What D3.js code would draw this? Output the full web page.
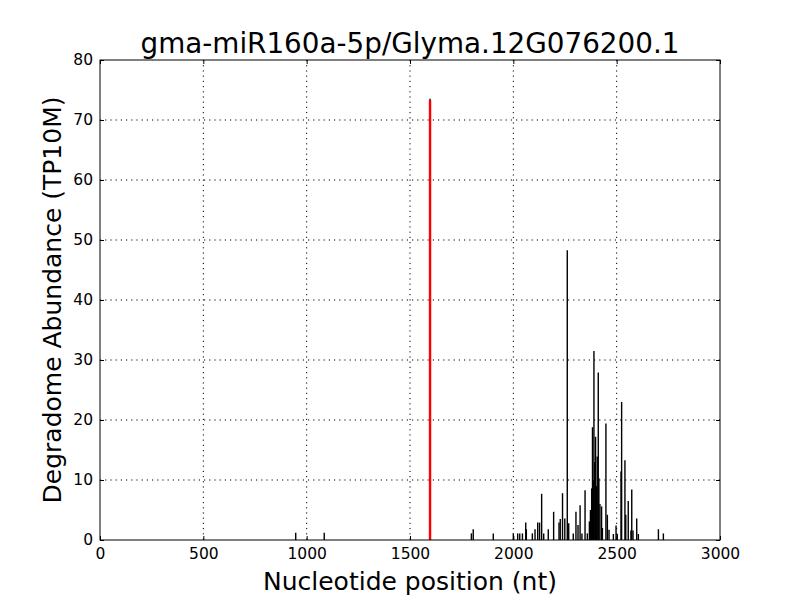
<!DOCTYPE html>
<meta charset="utf-8">
<style>
body { margin: 0; background: #fff; }
svg { font-family: "DejaVu Sans", sans-serif; }
.grid line { stroke: #000; stroke-dasharray: 1.2,4; stroke-width: 1; }
</style>
<script src="https://d3js.org/d3.v7.min.js"></script>
<body>
<svg width="800" height="600"></svg>
<script>

// degradome tags: positions (nt) and abundance (TP10M)
var positions = [947, 1085, 1797, 1806, 1903, 2000, 2021, 2031, 2044, 2060, 2063, 2092, 2105, 2118, 2127,
  2137, 2147, 2169, 2195, 2221, 2227, 2238, 2249, 2261, 2268, 2290, 2303, 2313, 2323, 2332, 2347, 2358,
  2368, 2373, 2379, 2383, 2387, 2390, 2394, 2398, 2402, 2406, 2411, 2414, 2419, 2427, 2431, 2448, 2455,
  2463, 2484, 2497, 2503, 2521, 2524, 2540, 2544, 2556, 2569, 2573, 2579, 2597, 2605, 2702, 2726];
var abundance = [1.2, 1.2, 1.1, 1.8, 1.1, 1.1, 1.1, 1.1, 1.1, 2.9, 1.8, 1.1, 1.8, 2.9, 2.9,
  7.7, 1.1, 1.8, 4.7, 2.9, 3.5, 7.8, 3.6, 48.3, 2.8, 1.1, 4.7, 2.5, 5.8, 1.1, 8.3, 1.1,
  3.1, 5, 8.6, 18.8, 10, 31.5, 13, 17.2, 9, 13.9, 27.9, 10.3, 6, 5.6, 2, 19.4, 4.2,
  1.7, 1.0, 2.4, 1.0, 11.4, 23, 13.3, 4.2, 6.5, 1.6, 8.4, 1.6, 3.6, 1, 1.8, 1.1];

// cleavage site
var sitePos = 1597;
var siteValue = 73.3;

var xTicks = [0, 500, 1000, 1500, 2000, 2500, 3000];
var yTicks = [0, 10, 20, 30, 40, 50, 60, 70, 80];

var svg = d3.select("svg"),
    margin = {left: 100, right: 80, top: 60, bottom: 60},
    width = 800 - margin.left - margin.right,
    height = 600 - margin.top - margin.bottom;

var g = svg.append("g").attr("transform", "translate(" + margin.left + "," + margin.top + ")");

var x = d3.scaleLinear().domain([0, 3000]).range([0, width]);
var y = d3.scaleLinear().domain([0, 80]).range([height, 0]);

// grid
g.append("g").attr("class", "grid")
  .selectAll("line").data(xTicks.slice(1, -1)).enter().append("line")
    .attr("x1", d => x(d)).attr("x2", d => x(d))
    .attr("y1", 0).attr("y2", height);
g.append("g").attr("class", "grid")
  .selectAll("line").data(yTicks.slice(1, -1)).enter().append("line")
    .attr("y1", d => y(d)).attr("y2", d => y(d))
    .attr("x1", 0).attr("x2", width);

// spikes
g.append("g").selectAll("line").data(positions).enter().append("line")
  .attr("x1", d => x(d)).attr("x2", d => x(d))
  .attr("y1", y(0))
  .attr("y2", (d, i) => y(abundance[i]))
  .attr("stroke", "#000").attr("stroke-width", 1.4);

g.append("line")
  .attr("x1", x(sitePos)).attr("x2", x(sitePos))
  .attr("y1", y(0)).attr("y2", y(siteValue + 0.25))
  .attr("stroke", "#000").attr("stroke-width", 1.4);
g.append("line")
  .attr("x1", x(sitePos)).attr("x2", x(sitePos))
  .attr("y1", y(0)).attr("y2", y(siteValue))
  .attr("stroke", "red").attr("stroke-width", 2.4);

// axes, ticks pointing inward like matplotlib classic
g.append("g").attr("transform", "translate(0," + height + ")")
  .call(d3.axisBottom(x).tickValues(xTicks).tickSize(-4).tickPadding(8).tickFormat(d3.format("d")));
g.append("g")
  .call(d3.axisLeft(y).tickValues(yTicks).tickSize(-4).tickPadding(7));
g.append("g")
  .call(d3.axisTop(x).tickValues(xTicks).tickSize(-4).tickFormat(""));
g.append("g").attr("transform", "translate(" + width + ",0)")
  .call(d3.axisRight(y).tickValues(yTicks).tickSize(-4).tickFormat(""));

g.selectAll(".domain").remove();
g.selectAll(".tick line").attr("stroke", "#000");
g.selectAll(".tick text")
  .attr("font-family", "DejaVu Sans, sans-serif")
  .attr("font-size", 15.5)
  .attr("fill", "#000");

g.append("rect")
  .attr("width", width).attr("height", height)
  .attr("fill", "none").attr("stroke", "#000").attr("stroke-width", 1);

// labels
svg.append("text")
  .attr("x", margin.left + width / 2).attr("y", 53)
  .attr("text-anchor", "middle").attr("font-size", 27.8)
  .text("gma-miR160a-5p/Glyma.12G076200.1");

svg.append("text")
  .attr("x", margin.left + width / 2).attr("y", 590)
  .attr("text-anchor", "middle").attr("font-size", 25)
  .text("Nucleotide position (nt)");

svg.append("text")
  .attr("transform", "translate(61," + (margin.top + height / 2) + ") rotate(-90)")
  .attr("text-anchor", "middle").attr("font-size", 25)
  .text("Degradome Abundance (TP10M)");

</script>
</body>
